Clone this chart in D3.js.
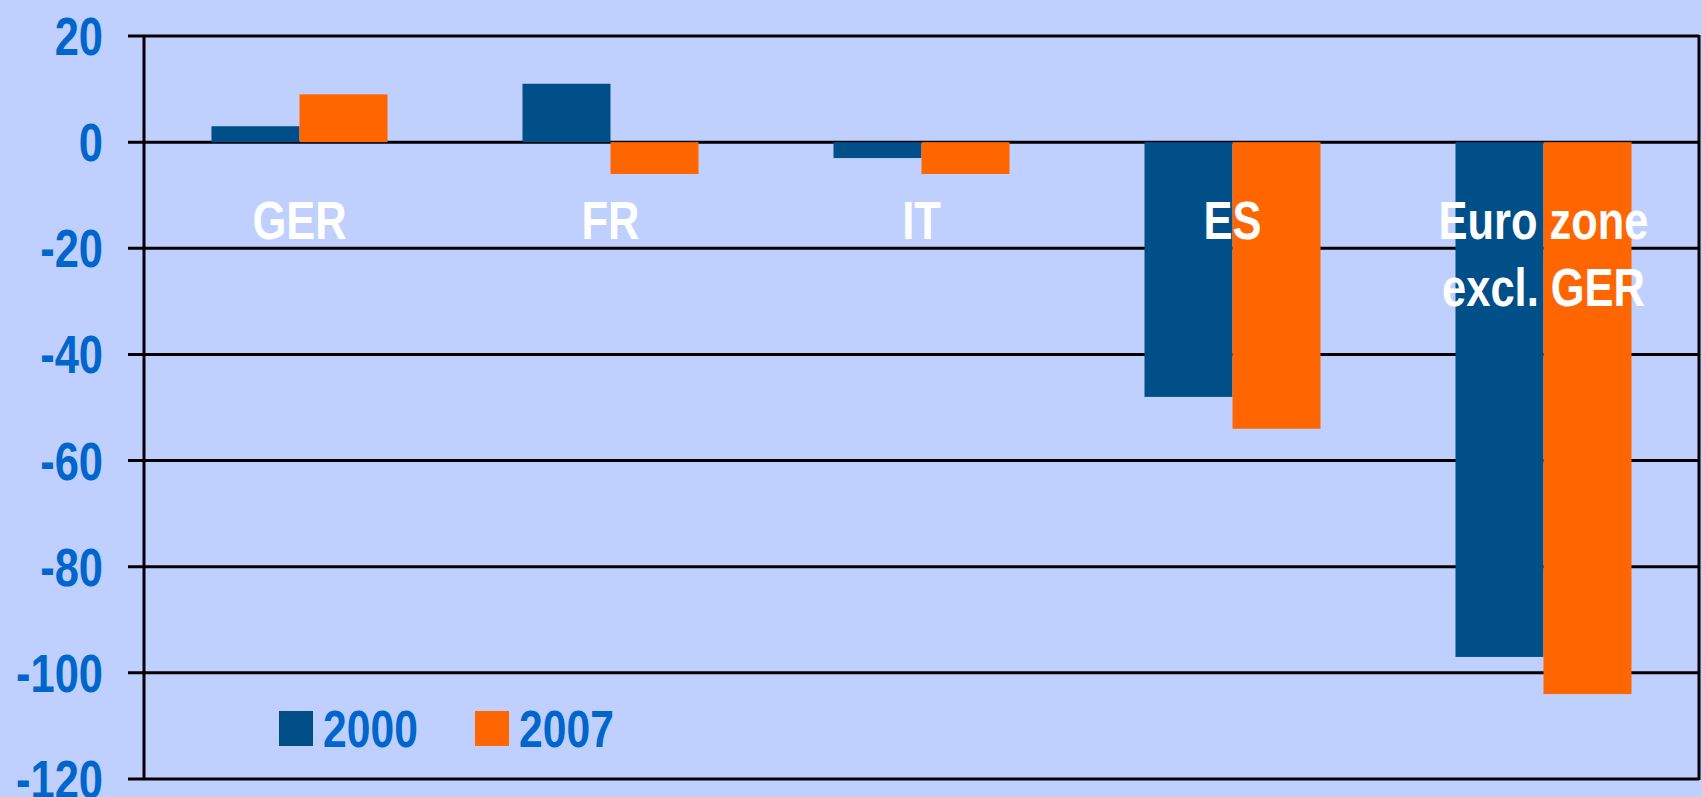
<html>
<head>
<meta charset="utf-8">
<script src="https://cdnjs.cloudflare.com/ajax/libs/d3/7.8.5/d3.min.js"></script>
<style>
  body { margin: 0; background: #BFD0FF; }
  text { font-family: "Liberation Sans", Arial, sans-serif; font-weight: bold; }
</style>
</head>
<body>
<div id="viz"></div>
<script>
var categories = ["GER", "FR", "IT", "ES", "Euro zone|excl. GER"];
var series = ["2000", "2007"];
var values2000 = [3, 11, -3, -48, -97];
var values2007 = [9, -6, -6, -54, -104];
var yTicks = [20, 0, -20, -40, -60, -80, -100, -120];
var colors = ["#004F88", "#FF6600"];

var width = 1702, height = 797;
var mLeft = 144, mRight = 1699, mTop = 36, mBottom = 779;
var narrow = 0.82; // condense the sans font like Arial Narrow

var svg = d3.select("#viz").append("svg")
    .attr("width", width)
    .attr("height", height);

svg.append("rect").attr("width", width).attr("height", height).attr("fill", "#BFD0FF");

var x = d3.scaleBand().domain(categories).range([mLeft, mRight]).paddingInner(0.434).paddingOuter(0.217);
var xs = d3.scaleBand().domain(series).range([0, x.bandwidth()]);
var y = d3.scaleLinear().domain([-120, 20]).range([mBottom, mTop]);

// gridlines
svg.append("g").selectAll("line").data(yTicks).enter().append("line")
    .attr("x1", mLeft - 16).attr("x2", mRight)
    .attr("y1", function(d) { return y(d); }).attr("y2", function(d) { return y(d); })
    .attr("stroke", "#000").attr("stroke-width", 3);

// bars
var rows = categories.map(function(c, i) {
  return [{c: c, s: "2000", v: values2000[i]}, {c: c, s: "2007", v: values2007[i]}];
});
svg.append("g").selectAll("g").data(rows).enter().append("g")
  .selectAll("rect").data(function(d) { return d; }).enter().append("rect")
    .attr("x", function(d) { return x(d.c) + xs(d.s); })
    .attr("width", xs.bandwidth())
    .attr("y", function(d) { return y(Math.max(0, d.v)); })
    .attr("height", function(d) { return Math.abs(y(d.v) - y(0)); })
    .attr("fill", function(d, i) { return colors[i]; });

// axes frame
svg.append("line").attr("x1", mLeft).attr("x2", mLeft).attr("y1", mTop - 1).attr("y2", mBottom + 1)
    .attr("stroke", "#000").attr("stroke-width", 3);
svg.append("line").attr("x1", mRight).attr("x2", mRight).attr("y1", mTop - 1).attr("y2", mBottom + 1)
    .attr("stroke", "#000").attr("stroke-width", 3);

// y tick labels
svg.append("g").selectAll("g").data(yTicks).enter().append("g")
    .attr("transform", function(d) { return "translate(103," + (y(d) + 19) + ") scale(" + narrow + ",1)"; })
  .append("text")
    .attr("text-anchor", "end")
    .attr("font-size", 53)
    .attr("fill", "#0066CC")
    .text(function(d) { return d; });

// category labels
var cat = svg.append("g").selectAll("g").data(categories).enter().append("g")
    .attr("transform", function(d) { return "translate(" + (x(d) + x.bandwidth() / 2) + ",239) scale(" + narrow + ",1)"; })
  .append("text")
    .attr("text-anchor", "middle")
    .attr("font-size", 53)
    .attr("fill", "#fff");
cat.selectAll("tspan").data(function(d) { return d.split("|"); }).enter().append("tspan")
    .attr("x", 0)
    .attr("dy", function(d, i) { return i ? 67 : 0; })
    .text(function(d) { return d; });

// legend
var legX = [279, 475];
var leg = svg.append("g").selectAll("g").data(series).enter().append("g")
    .attr("transform", function(d, i) { return "translate(" + legX[i] + ",711)"; });
leg.append("rect").attr("width", 34).attr("height", 35).attr("fill", function(d, i) { return colors[i]; });
leg.append("text").attr("transform", "translate(44,36) scale(" + narrow + ",1)")
    .attr("font-size", 52).attr("fill", "#0066CC")
    .text(function(d) { return d; });
</script>
</body>
</html>
